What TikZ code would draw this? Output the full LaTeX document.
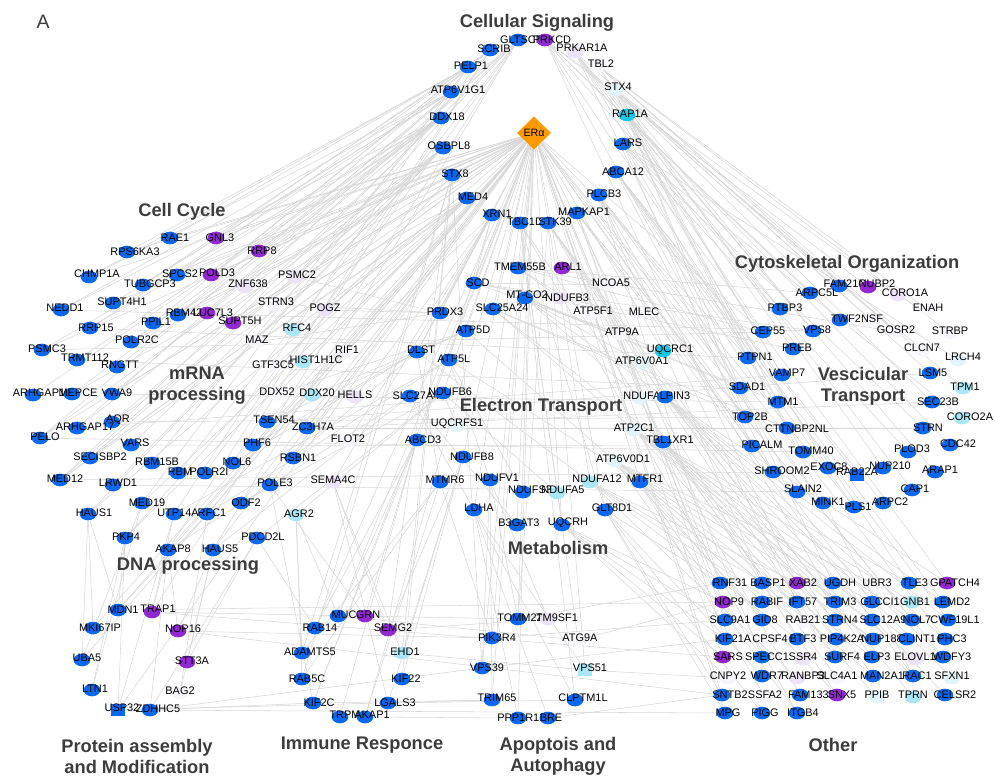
\documentclass[tikz,border=0pt]{standalone}
\usepackage{fontspec}
\setmainfont{Liberation Sans}
\usetikzlibrary{shapes.geometric}
\pgfdeclarelayer{bg}
\pgfsetlayers{bg,main}
\definecolor{cblue}{RGB}{10,104,240}
\definecolor{cpurple}{RGB}{145,40,210}
\definecolor{ccyan}{RGB}{25,200,232}
\definecolor{clcyan}{RGB}{170,230,245}
\definecolor{cpcyan}{RGB}{226,243,249}
\definecolor{cplav}{RGB}{236,228,246}
\definecolor{cwhite}{RGB}{246,246,250}
\definecolor{corange}{RGB}{255,153,0}
\definecolor{edgegray}{RGB}{214,214,214}
\definecolor{titlegray}{RGB}{60,60,60}
\tikzset{
 gnode/.style={ellipse, minimum width=12.5pt, minimum height=9.5pt, inner sep=0pt, draw=none},
 nb/.style={gnode, fill=cblue},
 nbr/.style={rectangle, minimum width=11pt, minimum height=9pt, inner sep=0pt, draw=none, fill=cblue},
 np/.style={gnode, fill=cpurple},
 nc/.style={gnode, fill=ccyan},
 nlc/.style={gnode, fill=clcyan},
 nlcr/.style={rectangle, minimum width=11pt, minimum height=9pt, inner sep=0pt, draw=none, fill=clcyan},
 npc/.style={gnode, fill=cpcyan},
 npl/.style={gnode, fill=cplav},
 nw/.style={gnode, fill=cwhite},
 lbl/.style={font=\fontsize{8.2}{9}\selectfont, inner sep=0pt, text=black},
 ttl/.style={font=\fontsize{13.7}{15.75}\selectfont\bfseries, text=titlegray, align=center, inner sep=0pt},
 edge/.style={draw=edgegray, line width=0.4pt}
}
\newcommand{\gn}[7]{\node[#6] (#1) at (#2,#3) {};\node[lbl] (#1-t) at (#4,#5) {#7};}
\begin{document}
\begin{tikzpicture}[x=0.75pt,y=-0.75pt]
\useasboundingbox (0,0) rectangle (995,778);
\node[font=\fontsize{14.6}{16}\selectfont, text=titlegray, inner sep=0pt] (lblA) at (43,22) {A};
% ---------- Cellular Signaling ring
\node[diamond, fill=corange, minimum width=25.5pt, minimum height=25pt, inner sep=0pt, font=\fontsize{8}{9}\selectfont] (ERa) at (534,133) {ERα};
\gn{GLTSCR2}{518}{40}{525}{40}{nb}{GLTSCR2}
\gn{PRKCD}{545}{40}{552}{40}{np}{PRKCD}
\gn{PRKAR1A}{575}{52}{582}{48}{npl}{PRKAR1A}
\gn{SCRIB}{490}{50}{494}{49}{nb}{SCRIB}
\gn{TBL2}{598}{66}{601}{64}{nw}{TBL2}
\gn{PELP1}{468}{67}{471}{66}{nb}{PELP1}
\gn{ATP6V1G1}{451}{92}{458}{90}{nb}{ATP6V1G1}
\gn{STX4}{615}{90}{618}{87}{npc}{STX4}
\gn{RAP1A}{627}{115}{630}{114}{nc}{RAP1A}
\gn{DDX18}{441}{118}{447}{117}{nb}{DDX18}
\gn{LARS}{623}{144}{628}{143}{nb}{LARS}
\gn{OSBPL8}{443}{148}{449}{146}{nb}{OSBPL8}
\gn{ABCA12}{616}{172}{623}{172}{nb}{ABCA12}
\gn{STX8}{452}{175}{455}{174}{nb}{STX8}
\gn{PLCB3}{599}{195}{604}{194}{nb}{PLCB3}
\gn{MED4}{467}{198}{473}{197}{nb}{MED4}
\gn{MAPKAP1}{577}{213}{584}{212}{nb}{MAPKAP1}
\gn{XRN1}{492}{215}{497}{214}{nb}{XRN1}
\gn{TBC1D}{520}{223}{525}{222}{nb}{TBC1D}
\gn{STK39}{548}{223}{555}{222}{nb}{STK39}
% ---------- Electron transport / metabolism
\gn{TMEM55B}{518}{268}{520}{267}{nb}{TMEM55B}
\gn{ARL1}{562}{268}{568}{267}{np}{ARL1}
\gn{SCD}{474}{283}{478}{283}{nb}{SCD}
\gn{NCOA5}{608}{285}{611}{283}{nw}{NCOA5}
\gn{MTCO2}{525}{298}{527}{295}{nb}{MT-CO2}
\gn{NDUFB3}{560}{298}{567}{298}{npl}{NDUFB3}
\gn{PRDX3}{440}{313}{445}{312}{nb}{PRDX3}
\gn{SLC25A24}{493}{309}{502}{308}{nb}{SLC25A24}
\gn{ATP5F1}{590}{313}{593}{311}{nw}{ATP5F1}
\gn{MLEC}{640}{313}{644}{312}{nw}{MLEC}
\gn{ATP5D}{466}{331}{473}{330}{nb}{ATP5D}
\gn{ATP9A}{620}{334}{622}{332}{nw}{ATP9A}
\gn{ATP6V0A1}{642}{363}{642}{361}{npc}{ATP6V0A1}
\gn{UQCRC1}{663}{351}{670}{350}{nc}{UQCRC1}
\gn{DLST}{417}{352}{421}{350}{nb}{DLST}
\gn{RIF1}{345}{352}{347}{350}{nw}{RIF1}
\gn{ATP5L}{449}{360}{454}{359}{nb}{ATP5L}
\gn{SLC27A4}{410}{396}{416}{396}{nb}{SLC27A4}
\gn{NDUFB6}{443}{393}{450}{392}{nb}{NDUFB6}
\gn{NDUFA4}{640}{398}{645}{396}{npc}{NDUFA4}
\gn{LPIN3}{665}{397}{675}{396}{nb}{LPIN3}
\gn{UQCRFS1}{457}{426}{457}{424}{npc}{UQCRFS1}
\gn{ATP2C1}{634}{430}{634}{428}{npc}{ATP2C1}
\gn{ABCD3}{417}{440}{423}{440}{nb}{ABCD3}
\gn{TBL1XR1}{663}{442}{670}{440}{nb}{TBL1XR1}
\gn{NDUFB8}{463}{457}{472}{457}{nb}{NDUFB8}
\gn{ATP6V0D1}{615}{461}{623}{459}{npc}{ATP6V0D1}
\gn{MTMR6}{440}{482}{445}{480}{nb}{MTMR6}
\gn{NDUFV1}{490}{480}{497}{478}{nb}{NDUFV1}
\gn{NDUFS3}{523}{492}{530}{490}{nb}{NDUFS3}
\gn{NDUFA5}{557}{493}{563}{490}{nlc}{NDUFA5}
\gn{NDUFA12}{590}{482}{597}{479}{nlc}{NDUFA12}
\gn{MTFR1}{640}{482}{645}{479}{nb}{MTFR1}
\gn{LDHA}{474}{510}{479}{508}{nb}{LDHA}
\gn{GLT8D1}{605}{510}{612}{508}{nb}{GLT8D1}
\gn{B3GAT3}{517}{525}{519}{523}{nb}{B3GAT3}
\gn{UQCRH}{562}{525}{568}{523}{nb}{UQCRH}
% ---------- Cell cycle / mRNA / DNA
\gn{RAE1}{170}{238}{175}{238}{nb}{RAE1}
\gn{GNL3}{216}{238}{220}{238}{np}{GNL3}
\gn{RPS6KA3}{127}{252}{135}{252}{nb}{RPS6KA3}
\gn{RRP8}{259}{251}{262}{251}{np}{RRP8}
\gn{CHMP1A}{89}{277}{97}{274}{nb}{CHMP1A}
\gn{SPCS2}{177}{275}{180}{274}{nb}{SPCS2}
\gn{POLD3}{211}{275}{217}{273}{np}{POLD3}
\gn{TUBGCP3}{143}{285}{150}{284}{nb}{TUBGCP3}
\gn{ZNF638}{245}{287}{248}{284}{npl}{ZNF638}
\gn{PSMC2}{295}{277}{297}{275}{npl}{PSMC2}
\gn{SUPT4H1}{113}{303}{122}{302}{nb}{SUPT4H1}
\gn{NEDD1}{61}{310}{65}{308}{nb}{NEDD1}
\gn{STRN3}{274}{304}{276}{302}{nw}{STRN3}
\gn{POGZ}{325}{310}{325}{308}{npl}{POGZ}
\gn{RBM42}{178}{315}{184}{313}{nb}{RBM42}
\gn{LUC7L3}{207}{313}{213}{313}{np}{LUC7L3}
\gn{SUPT5H}{233}{323}{240}{321}{np}{SUPT5H}
\gn{PPIL1}{153}{323}{156}{322}{nb}{PPIL1}
\gn{RRP15}{90}{328}{96}{328}{nb}{RRP15}
\gn{RFC4}{293}{330}{297}{328}{nlc}{RFC4}
\gn{POLR2C}{131}{342}{137}{340}{nb}{POLR2C}
\gn{MAZ}{257}{342}{257}{340}{nw}{MAZ}
\gn{PSMC3}{42}{350}{47}{349}{nb}{PSMC3}
\gn{TRMT112}{77}{360}{85}{358}{nb}{TRMT112}
\gn{RNGTT}{117}{367}{120}{365}{nb}{RNGTT}
\gn{GTF3C5}{273}{367}{273}{365}{nw}{GTF3C5}
\gn{HIST1H1C}{303}{362}{316}{360}{nlc}{HIST1H1C}
\gn{ARHGAP1}{33}{395}{39}{393}{nb}{ARHGAP1}
\gn{MEPCE}{72}{394}{78}{393}{nb}{MEPCE}
\gn{VWA9}{112}{394}{117}{393}{nb}{VWA9}
\gn{DDX52}{277}{394}{277}{392}{nw}{DDX52}
\gn{DDX20}{312}{395}{317}{393}{nlc}{DDX20}
\gn{HELLS}{355}{397}{355}{395}{npl}{HELLS}
\gn{AQR}{112}{422}{118}{420}{nb}{AQR}
\gn{ARHGAP17}{77}{428}{85}{427}{nb}{ARHGAP17}
\gn{TSEN54}{267}{422}{274}{420}{nb}{TSEN54}
\gn{ZC3H7A}{307}{428}{313}{427}{nb}{ZC3H7A}
\gn{FLOT2}{348}{441}{348}{439}{nw}{FLOT2}
\gn{PELO}{40}{438}{45}{437}{nb}{PELO}
\gn{VARS}{131}{445}{135}{443}{nb}{VARS}
\gn{PHF6}{253}{445}{257}{443}{nb}{PHF6}
\gn{SECISBP2}{90}{458}{100}{457}{nb}{SECISBP2}
\gn{RBM15B}{152}{463}{157}{462}{nb}{RBM15B}
\gn{NOL6}{233}{463}{237}{462}{nb}{NOL6}
\gn{RSBN1}{293}{458}{298}{458}{nb}{RSBN1}
\gn{RBM}{178}{473}{180}{472}{nb}{RBM}
\gn{POLR2I}{205}{473}{209}{472}{nb}{POLR2I}
\gn{MED12}{60}{480}{65}{479}{nb}{MED12}
\gn{LRWD1}{113}{485}{118}{483}{nb}{LRWD1}
\gn{POLE3}{270}{485}{275}{483}{nb}{POLE3}
\gn{SEMA4C}{333}{482}{333}{480}{npl}{SEMA4C}
\gn{MED19}{142}{503}{147}{503}{nb}{MED19}
\gn{ODF2}{241}{503}{246}{503}{nb}{ODF2}
\gn{HAUS1}{88}{514}{94}{513}{nb}{HAUS1}
\gn{UTP14A}{174}{514}{178}{513}{nb}{UTP14A}
\gn{RFC1}{207}{514}{212}{513}{nb}{RFC1}
\gn{AGR2}{296}{515}{299}{514}{nlc}{AGR2}
\gn{PKP4}{125}{538}{126}{537}{nb}{PKP4}
\gn{PDCD2L}{257}{538}{263}{537}{nb}{PDCD2L}
\gn{AKAP8}{168}{550}{173}{549}{nb}{AKAP8}
\gn{HAUS5}{213}{550}{220}{549}{nb}{HAUS5}
% ---------- Protein assembly
\gn{MDN1}{118}{610}{123}{610}{nb}{MDN1}
\gn{TRAP1}{152}{612}{158}{609}{np}{TRAP1}
\gn{MKI67IP}{93}{628}{100}{628}{nb}{MKI67IP}
\gn{NOP16}{178}{631}{183}{629}{np}{NOP16}
\gn{UBA5}{82}{660}{87}{658}{nb}{UBA5}
\gn{STT3A}{187}{662}{192}{661}{np}{STT3A}
\gn{LTN1}{92}{690}{95}{689}{nb}{LTN1}
\gn{BAG2}{180}{693}{180}{691}{nw}{BAG2}
\gn{USP32}{118}{710}{122}{708}{nbr}{USP32}
\gn{ZDHHC5}{150}{710}{158}{709}{nb}{ZDHHC5}
% ---------- Immune
\gn{MUC1}{338}{616}{347}{615}{nb}{MUC1}
\gn{GRN}{365}{616}{368}{615}{np}{GRN}
\gn{RAB14}{315}{628}{320}{628}{nb}{RAB14}
\gn{SEMG2}{388}{630}{393}{628}{np}{SEMG2}
\gn{ADAMTS5}{302}{653}{310}{652}{nb}{ADAMTS5}
\gn{EHD1}{402}{653}{405}{652}{nlc}{EHD1}
\gn{RAB5C}{302}{679}{307}{679}{nb}{RAB5C}
\gn{KIF22}{402}{679}{406}{679}{nb}{KIF22}
\gn{KIF2C}{313}{703}{319}{703}{nb}{KIF2C}
\gn{LGALS3}{388}{703}{395}{703}{nb}{LGALS3}
\gn{TRPM}{340}{717}{345}{715}{nb}{TRPM}
\gn{AKAP1}{365}{717}{372}{715}{nb}{AKAP1}
% ---------- Apoptosis
\gn{TOMM22}{518}{619}{520}{618}{nb}{TOMM22}
\gn{TM9SF1}{548}{619}{557}{618}{npl}{TM9SF1}
\gn{PIK3R4}{492}{638}{497}{638}{nb}{PIK3R4}
\gn{ATG9A}{578}{640}{580}{638}{nw}{ATG9A}
\gn{VPS39}{482}{668}{487}{668}{nb}{VPS39}
\gn{VPS51}{585}{670}{590}{668}{nlcr}{VPS51}
\gn{TRIM65}{492}{700}{497}{698}{nb}{TRIM65}
\gn{CLPTM1L}{575}{700}{583}{698}{nb}{CLPTM1L}
\gn{PPP1R13B}{518}{718}{525}{718}{nb}{PPP1R13B}
\gn{BRE}{548}{718}{551}{718}{nb}{BRE}
% ---------- Cytoskeletal / vesicular
\gn{FAM21C}{839}{286}{845}{284}{nb}{FAM21C}
\gn{NUBP2}{868}{287}{877}{284}{np}{NUBP2}
\gn{ARPC5L}{810}{293}{817}{293}{nb}{ARPC5L}
\gn{CORO1A}{898}{295}{905}{293}{npl}{CORO1A}
\gn{PTBP3}{780}{309}{785}{308}{nb}{PTBP3}
\gn{ENAH}{928}{310}{928}{308}{nw}{ENAH}
\gn{TWF2}{840}{320}{846}{319}{nb}{TWF2}
\gn{NSF}{872}{321}{872}{319}{nw}{NSF}
\gn{GOSR2}{896}{332}{896}{330}{nw}{GOSR2}
\gn{STRBP}{950}{333}{950}{331}{nw}{STRBP}
\gn{CEP55}{763}{332}{768}{331}{nb}{CEP55}
\gn{VPS8}{813}{331}{817}{330}{nb}{VPS8}
\gn{PREB}{793}{349}{797}{348}{nb}{PREB}
\gn{CLCN7}{922}{350}{922}{348}{nw}{CLCN7}
\gn{PTPN1}{748}{358}{755}{357}{nb}{PTPN1}
\gn{LRCH4}{958}{360}{963}{357}{npc}{LRCH4}
\gn{VAMP7}{782}{375}{787}{373}{nb}{VAMP7}
\gn{LSM5}{930}{373}{933}{373}{nb}{LSM5}
\gn{SDAD1}{740}{388}{747}{387}{nb}{SDAD1}
\gn{TPM1}{963}{388}{965}{387}{nlc}{TPM1}
\gn{MTM1}{778}{402}{783}{402}{nb}{MTM1}
\gn{SEC23B}{932}{402}{938}{402}{nb}{SEC23B}
\gn{TOP2B}{745}{417}{750}{417}{nb}{TOP2B}
\gn{CORO2A}{962}{418}{970}{417}{nlc}{CORO2A}
\gn{CTTNBP2NL}{787}{428}{797}{429}{nb}{CTTNBP2NL}
\gn{STRN}{923}{428}{928}{428}{nb}{STRN}
\gn{PICALM}{752}{446}{762}{445}{nb}{PICALM}
\gn{CDC42}{950}{445}{958}{444}{nb}{CDC42}
\gn{TOMM40}{803}{452}{811}{451}{nb}{TOMM40}
\gn{PLOD3}{908}{452}{912}{449}{nb}{PLOD3}
\gn{SHROOM2}{773}{472}{782}{471}{nb}{SHROOM2}
\gn{EXOC8}{828}{468}{829}{467}{nb}{EXOC8}
\gn{RAB22A}{857}{475}{857}{472}{nbr}{RAB22A}
\gn{NUP210}{883}{468}{890}{466}{nb}{NUP210}
\gn{ARAP1}{935}{472}{940}{470}{nb}{ARAP1}
\gn{SLAIN2}{797}{492}{803}{489}{nb}{SLAIN2}
\gn{CAP1}{912}{490}{915}{489}{nb}{CAP1}
\gn{MINK1}{823}{503}{828}{502}{nb}{MINK1}
\gn{PLS1}{854}{507}{858}{507}{nb}{PLS1}
\gn{ARPC2}{883}{503}{890}{502}{nb}{ARPC2}
% ---------- Other grid
\gn{RNF31}{720}{583}{730}{583}{nb}{RNF31}
\gn{BASP1}{762}{583}{768}{583}{nb}{BASP1}
\gn{XAB2}{797}{583}{803}{583}{np}{XAB2}
\gn{UGDH}{833}{583}{840}{583}{nb}{UGDH}
\gn{UBR3}{877}{585}{877}{583}{nw}{UBR3}
\gn{TLE3}{909}{583}{915}{583}{nb}{TLE3}
\gn{GPATCH4}{947}{583}{955}{583}{np}{GPATCH4}
\gn{NOP9}{723}{602}{729}{602}{np}{NOP9}
\gn{RABIF}{762}{602}{767}{602}{nb}{RABIF}
\gn{IFT57}{797}{602}{803}{602}{nb}{IFT57}
\gn{TRIM3}{835}{602}{840}{602}{nb}{TRIM3}
\gn{GLCCI1}{872}{602}{880}{602}{nb}{GLCCI1}
\gn{GNB1}{912}{602}{915}{602}{nlc}{GNB1}
\gn{LEMD2}{943}{602}{952}{602}{nb}{LEMD2}
\gn{SLC9A1}{725}{620}{730}{620}{nb}{SLC9A1}
\gn{GID8}{762}{620}{765}{620}{nb}{GID8}
\gn{RAB21}{803}{622}{803}{620}{nw}{RAB21}
\gn{STRN4}{835}{620}{840}{620}{nb}{STRN4}
\gn{SLC12A9}{872}{620}{883}{620}{nb}{SLC12A9}
\gn{NOL7}{912}{620}{917}{620}{nb}{NOL7}
\gn{CWF19L1}{948}{620}{955}{620}{nb}{CWF19L1}
\gn{KIF21A}{725}{639}{733}{639}{nb}{KIF21A}
\gn{CPSF4}{770}{641}{770}{639}{nw}{CPSF4}
\gn{BTF3}{797}{639}{803}{639}{nb}{BTF3}
\gn{PIP4K2A}{836}{639}{842}{639}{nb}{PIP4K2A}
\gn{NUP188}{873}{639}{882}{639}{nb}{NUP188}
\gn{CLINT1}{907}{639}{917}{639}{nb}{CLINT1}
\gn{PHC3}{945}{639}{952}{639}{nb}{PHC3}
\gn{SARS}{723}{657}{728}{657}{np}{SARS}
\gn{SPECC1}{762}{657}{767}{657}{nb}{SPECC1}
\gn{SSR4}{803}{659}{803}{657}{npl}{SSR4}
\gn{SURF4}{835}{657}{842}{657}{nb}{SURF4}
\gn{ELP3}{872}{657}{877}{657}{nb}{ELP3}
\gn{ELOVL1}{915}{659}{915}{657}{npl}{ELOVL1}
\gn{WDFY3}{943}{657}{952}{657}{nb}{WDFY3}
\gn{CNPY2}{728}{678}{728}{676}{nw}{CNPY2}
\gn{WDR7}{762}{676}{767}{676}{nb}{WDR7}
\gn{RANBP3}{797}{678}{803}{676}{npl}{RANBP3}
\gn{SLC4A1}{837}{678}{837}{676}{nw}{SLC4A1}
\gn{MAN2A1}{873}{676}{882}{676}{nb}{MAN2A1}
\gn{RAC1}{913}{676}{917}{676}{nb}{RAC1}
\gn{SFXN1}{952}{678}{952}{676}{npc}{SFXN1}
\gn{SNTB2}{722}{695}{730}{695}{nb}{SNTB2}
\gn{SSFA2}{765}{697}{765}{695}{nw}{SSFA2}
\gn{FAM133B}{800}{695}{812}{695}{nb}{FAM133B}
\gn{SNX5}{837}{695}{842}{695}{np}{SNX5}
\gn{PPIB}{877}{697}{877}{695}{npc}{PPIB}
\gn{TPRN}{913}{697}{913}{695}{nlc}{TPRN}
\gn{CELSR2}{945}{695}{955}{695}{nb}{CELSR2}
\gn{MPG}{725}{713}{728}{713}{nb}{MPG}
\gn{PIGG}{762}{713}{765}{713}{nb}{PIGG}
\gn{ITGB4}{797}{713}{803}{713}{nb}{ITGB4}
% ---------- titles
\node[ttl] (tCS) at (537,23) {Cellular Signaling};
\node[ttl] (tCC) at (182,212) {Cell Cycle};
\node[ttl] (tCO) at (847,264) {Cytoskeletal Organization};
\node[ttl] (tMR) at (197,386) {mRNA\\processing};
\node[ttl] (tET) at (541,407) {Electron Transport};
\node[ttl] (tVT) at (863,386) {Vescicular\\Transport};
\node[ttl] (tDP) at (188,566) {DNA processing};
\node[ttl] (tMB) at (558,548) {Metabolism};
\node[ttl] (tPA) at (137,756) {Protein assembly\\and Modification};
\node[ttl] (tIR) at (362,745) {Immune Responce};
\node[ttl] (tAA) at (558,756) {Apoptois and\\Autophagy};
\node[ttl] (tOT) at (833,745) {Other};
% ---------- edges
\begin{pgfonlayer}{bg}
\foreach \s/\tl in {
ERa/{TMEM55B,SCD,SLC25A24,PRDX3,ATP5D,DLST,NDUFB6,ABCD3,NDUFB8,LDHA,B3GAT3,UQCRH,GLT8D1,MTFR1,NDUFA12,ATP2C1,TBL1XR1,LPIN3,UQCRC1,PTPN1,CEP55,SDAD1,TOP2B,PICALM,SHROOM2,MINK1,RNF31,NOP9,SARS,SNTB2,MPG,TOMM22,PIK3R4,VPS39,TRIM65,PPP1R13B,MUC1,RAB14,KIF2C,AKAP1,MDN1,MKI67IP,UBA5,USP32,HAUS5,AKAP8,PKP4,RFC1,ODF2,POLE3,RSBN1,PHF6,TSEN54,ZC3H7A,VWA9,AQR,POLR2C,PPIL1,RBM42,SUPT5H,POLD3,SPCS2,RAE1,GNL3,RRP8,RPS6KA3,CHMP1A,SUPT4H1,TUBGCP3,PSMC3,PELO,MED12,HAUS1,SECISBP2,MEPCE},
DDX18/{RRP15,NEDD1,ARHGAP1,PSMC3,TRMT112,POLR2C,RNGTT,MED12,VWA9,MEPCE},
ATP6V1G1/{CHMP1A,NEDD1,SUPT4H1,RRP15,PELO,ARHGAP17,TUBGCP3},
OSBPL8/{PELO,MED12,HAUS1,SECISBP2,LRWD1,ARHGAP17,AQR,VARS},
PELP1/{RPS6KA3,RAE1,CHMP1A,TUBGCP3,SPCS2,MED19,UTP14A},
SCRIB/{GNL3,POLD3,RBM42,PPIL1,RBM15B,NOL6,AKAP8},
GLTSCR2/{RRP8,PSMC2,ZNF638,LUC7L3,SUPT5H,POLR2I,RBM,HAUS5,TRAP1},
PRKCD/{NUBP2,CORO1A,ARPC5L,PTBP3,TWF2,SLAIN2,TLE3,XAB2},
PRKAR1A/{FAM21C,PTBP3,CEP55,VPS8,PREB,EXOC8,UGDH},
TBL2/{ENAH,GOSR2,STRBP,CLCN7,VAMP7,NUP210},
STX4/{VPS8,VAMP7,SDAD1,GOSR2,LSM5,SEC23B,TPM1,NSF},
RAP1A/{PTPN1,MTM1,TOP2B,CDC42,ARAP1,CAP1,RAC1},
LARS/{LRCH4,CORO2A,STRN,PLOD3,PICALM,TOMM40,GPATCH4},
ABCA12/{SHROOM2,CTTNBP2NL,RAB22A,PLS1,ARPC2,LEMD2,CWF19L1},
PLCB3/{MINK1,PLS1,RNF31,BASP1,IFT57,TRIM3,PHC3},
MAPKAP1/{SLC9A1,KIF21A,SPECC1,GLCCI1,NOL7,RAC1,WDFY3},
STK39/{BTF3,PIP4K2A,SURF4,ELP3,MAN2A1,TOMM22,VPS51},
TBC1D/{UQCRH,GLT8D1,ATG9A,CLPTM1L,SNX5,ITGB4},
XRN1/{SCD,PRDX3,DLST,ATP5L,RIF1,HELLS,FLOT2,SEMA4C},
MED4/{MED19,MED12,STRN3,MAZ,GTF3C5,DDX52,HIST1H1C,RFC4,POGZ},
STX8/{PKP4,VPS39,KIF22,EHD1,RAB5C,ADAMTS5,SEMG2},
SCD/{NCOA5,MLEC,ATP9A,VPS8,PREB},
TMEM55B/{NDUFB3,ATP5F1,ARPC5L,CEP55,GOSR2},
MTCO2/{UQCRC1,ATP6V0A1,NDUFA4,LPIN3,SDAD1,MTM1},
SLC25A24/{TBL1XR1,ATP2C1,TOP2B,CTTNBP2NL},
PRDX3/{MAZ,STRN3,PSMC2,POGZ},
ATP5D/{DDX52,DDX20,TSEN54,ATP6V0D1},
DLST/{PHF6,RSBN1,NOL6,MTMR6,NDUFA12},
ATP5L/{RFC1,UTP14A,NDUFV1,NDUFS3,MTFR1},
NDUFB6/{ODF2,PDCD2L,AGR2,NDUFA5,UQCRFS1},
SLC27A4/{HAUS5,AKAP8,LDHA,B3GAT3},
ABCD3/{MUC1,GRN,RAB14,KIF2C,TRPM},
NDUFB8/{SEMG2,EHD1,KIF22,LGALS3},
MTMR6/{ADAMTS5,RAB5C,AKAP1,PIK3R4},
NDUFV1/{TOMM22,TM9SF1,VPS39,TRIM65},
LDHA/{PPP1R13B,BRE,CLPTM1L,VPS51},
UQCRH/{NOP9,SLC9A1,KIF21A,SARS,CNPY2},
GLT8D1/{SNTB2,MPG,PIGG,RNF31,WDR7},
MTFR1/{BASP1,RABIF,GID8,SPECC1,SSFA2},
NDUFA12/{XAB2,IFT57,RAB21,BTF3,RANBP3},
TBL1XR1/{UGDH,TRIM3,STRN4,PIP4K2A,SURF4,SLC4A1,FAM133B},
ATP6V0D1/{UBR3,GLCCI1,SLC12A9,NUP188,ELP3,MAN2A1,SNX5,ITGB4},
ATP2C1/{TLE3,GNB1,NOL7,CLINT1,ELOVL1,RAC1,PPIB},
LPIN3/{GPATCH4,LEMD2,CWF19L1,PHC3,WDFY3,SFXN1,TPRN,CELSR2},
HAUS1/{MKI67IP,UBA5,MDN1},
PKP4/{MDN1,LTN1,USP32},
AKAP8/{TRAP1,NOP16,ZDHHC5},
HAUS5/{NOP16,STT3A,BAG2},
MED19/{UBA5,LTN1},
UTP14A/{TRAP1,USP32},
PDCD2L/{STT3A,ZDHHC5,RAB14},
AGR2/{RAB5C,ADAMTS5,MUC1},
POLE3/{GRN,KIF2C},
SEMA4C/{EHD1,LGALS3,SEMG2},
RFC1/{MDN1,BAG2},
PSMC3/{CEP55},RRP15/{PTPN1},NEDD1/{VPS8},TRMT112/{SDAD1},VWA9/{MTM1},
AQR/{TOP2B},VARS/{PICALM},MED12/{SHROOM2},LRWD1/{SLAIN2},ARHGAP17/{VAMP7},
PELO/{TOMM40},ZC3H7A/{SEC23B,STRN},TSEN54/{LSM5},
MDN1/{NOP9},TRAP1/{SARS,TOMM22},NOP16/{SNTB2,PIK3R4},USP32/{MPG,TRIM65},
ZDHHC5/{KIF2C,VPS39},KIF2C/{TRIM65},AKAP1/{PPP1R13B},LGALS3/{CLPTM1L},
TOMM22/{RNF31},PIK3R4/{SLC9A1},VPS39/{KIF21A},VPS51/{CNPY2},BRE/{SNTB2},
ATG9A/{NOP9},MUC1/{ATG9A},SEMG2/{TM9SF1},EHD1/{VPS51}}
{\foreach \t in \tl {\draw[edge] (\s) -- (\t);}}
\end{pgfonlayer}
\end{tikzpicture}
\end{document}
